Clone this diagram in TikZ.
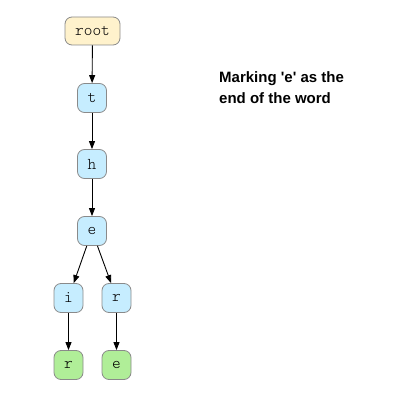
\documentclass[tikz,border=0pt]{standalone}
\usepackage{fontspec}
\setmainfont{Liberation Sans}[Ligatures=TeXOff]
\newfontfamily\monof{lmmonolt10-regular.otf}
\usetikzlibrary{arrows.meta}
\definecolor{rootfill}{HTML}{FFF2CC}
\definecolor{bluefill}{HTML}{C6EDFF}
\definecolor{greenfill}{HTML}{B0EE98}
\definecolor{edgegray}{HTML}{8A8A8A}
\tikzset{
  box/.style={draw=edgegray, line width=0.8pt, rounded corners=7pt, minimum width=29pt, minimum height=29pt, inner sep=0pt, font=\monof\fontsize{16.5}{16.5}\selectfont},
  rootbox/.style={box, fill=rootfill, minimum width=55pt, minimum height=28pt},
  bluebox/.style={box, fill=bluefill},
  greenbox/.style={box, fill=greenfill},
  link/.style={draw=black, line width=0.9pt, -{Triangle[length=8pt,width=6pt]}}
}
\begin{document}
\begin{tikzpicture}[x=1pt,y=-1pt]
\useasboundingbox (0,0) rectangle (412,409);
\node[rootbox] (root) at (92.5,31) {root};
\node[bluebox] (t) at (92,98) {t};
\node[bluebox] (h) at (92,164) {h};
\node[bluebox] (e) at (92,231) {e};
\node[bluebox] (i) at (68.5,298) {i};
\node[bluebox] (r1) at (116.5,298) {r};
\node[greenbox] (r2) at (68.5,365) {r};
\node[greenbox] (e2) at (116.5,365) {e};
\draw[link] (root) -- (t);
\draw[link] (t) -- (h);
\draw[link] (h) -- (e);
\draw[link] (e) -- (i);
\draw[link] (e) -- (r1);
\draw[link] (i) -- (r2);
\draw[link] (r1) -- (e2);
\node[anchor=north west, align=left, font=\bfseries\fontsize{15}{21}\selectfont, inner sep=0pt] (label) at (219,71) {Marking 'e' as the\\end of the word};
\end{tikzpicture}
\end{document}
